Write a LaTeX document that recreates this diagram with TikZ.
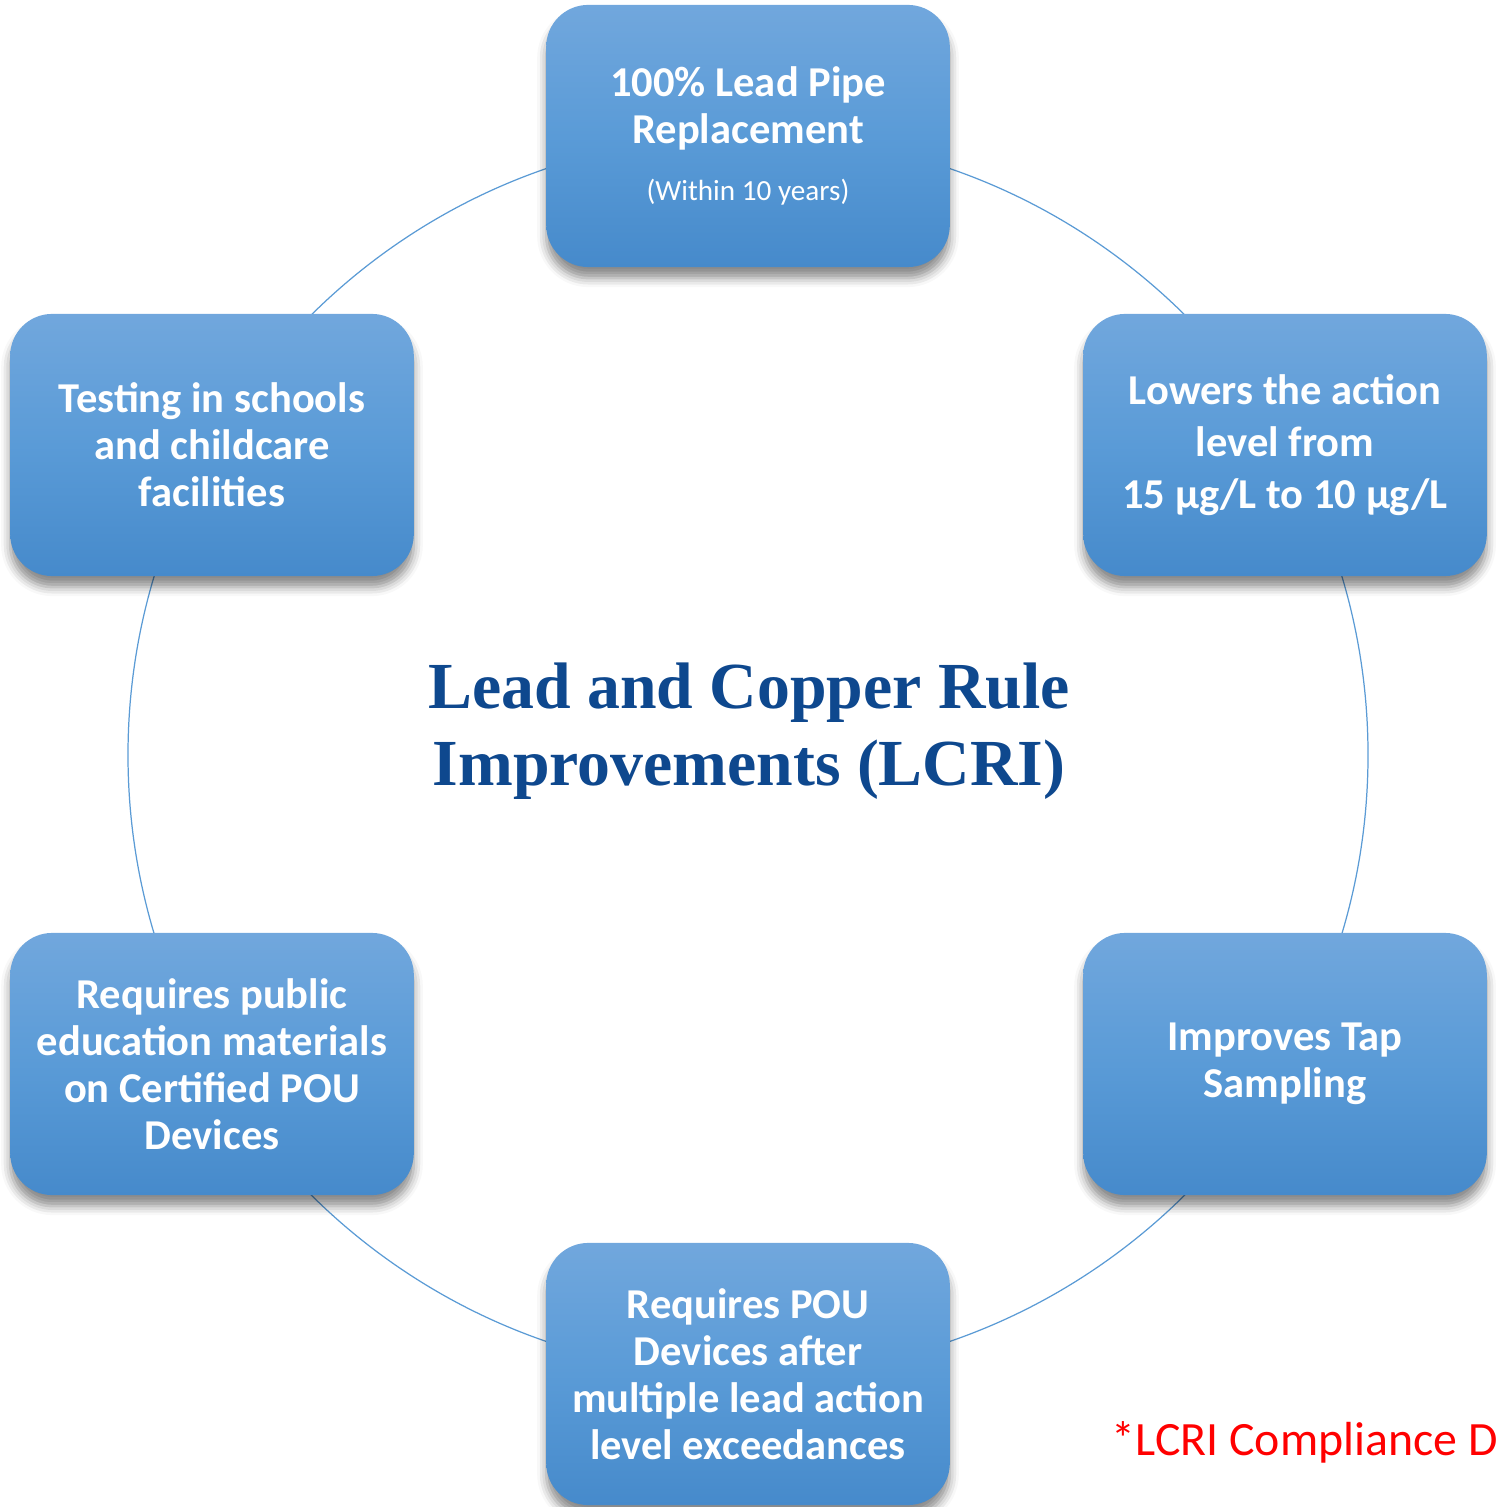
\documentclass[tikz,border=0pt]{standalone}
\usepackage{fontspec}
\setmainfont{Carlito}
\newfontfamily\titlefont{Liberation Serif}
\usepackage{xcolor}
\usepackage{tikz}
\usetikzlibrary{shadows.blur}

\definecolor{boxtop}{RGB}{113,167,221}
\definecolor{boxmid}{RGB}{90,155,215}
\definecolor{boxbot}{RGB}{70,138,203}
\definecolor{ringblue}{RGB}{91,155,213}
\definecolor{titleblue}{RGB}{14,72,142}

\begin{document}
\begin{tikzpicture}[
    x=0.01cm, y=-0.01cm,
    box/.style={
        rectangle,
        rounded corners=0.42cm,
        minimum width=4.03cm,
        minimum height=2.62cm,
        text width=3.8cm,
        align=flush center,
        top color=boxtop,
        bottom color=boxbot,
        middle color=boxmid,
        text=white,
        font=\bfseries\fontsize{12.1}{13.4}\selectfont,
        blur shadow={shadow xshift=0pt, shadow yshift=-1.1mm,
                     shadow blur radius=0.9mm, shadow opacity=45}
    },
    ring/.style={
        draw=ringblue,
        line width=0.35pt
    }
]
\useasboundingbox (0,0) rectangle (1497,1507);

% Ring behind the boxes
\coordinate (hub) at (748,755);
\draw[ring] (hub) circle[radius=620];

% Title
\node[font=\titlefont\bfseries\fontsize{18.7}{22}\selectfont, text=titleblue, align=center]
    (title) at (749,731) {Lead and Copper Rule\\Improvements (LCRI)};

% Boxes around the ring
\node[box] (pipe)    at (748,136)  {100\% Lead Pipe\\Replacement\\[3pt]
    {\mdseries\fontsize{8.3}{10}\selectfont (Within 10 years)}};
\node[box, font=\bfseries\fontsize{12.1}{14.8}\selectfont]
               (level)   at (1285,445) {Lowers the action\\level from\\15 µg/L to 10 µg/L};
\node[box] (tap)     at (1285,1064) {Improves Tap\\Sampling};
\node[box] (pou)     at (748,1374) {Requires POU\\Devices after\\multiple lead action\\level exceedances};
\node[box] (edu)     at (212,1064) {Requires public\\education materials\\on Certified POU\\Devices};
\node[box] (schools) at (212,445)  {Testing in schools\\and childcare\\facilities};

% Footnote
\node[anchor=base west, inner sep=0pt, text=red, font=\fontsize{13.6}{16}\selectfont]
    (note) at (1111,1455) {*LCRI Compliance D};

\end{tikzpicture}
\end{document}
